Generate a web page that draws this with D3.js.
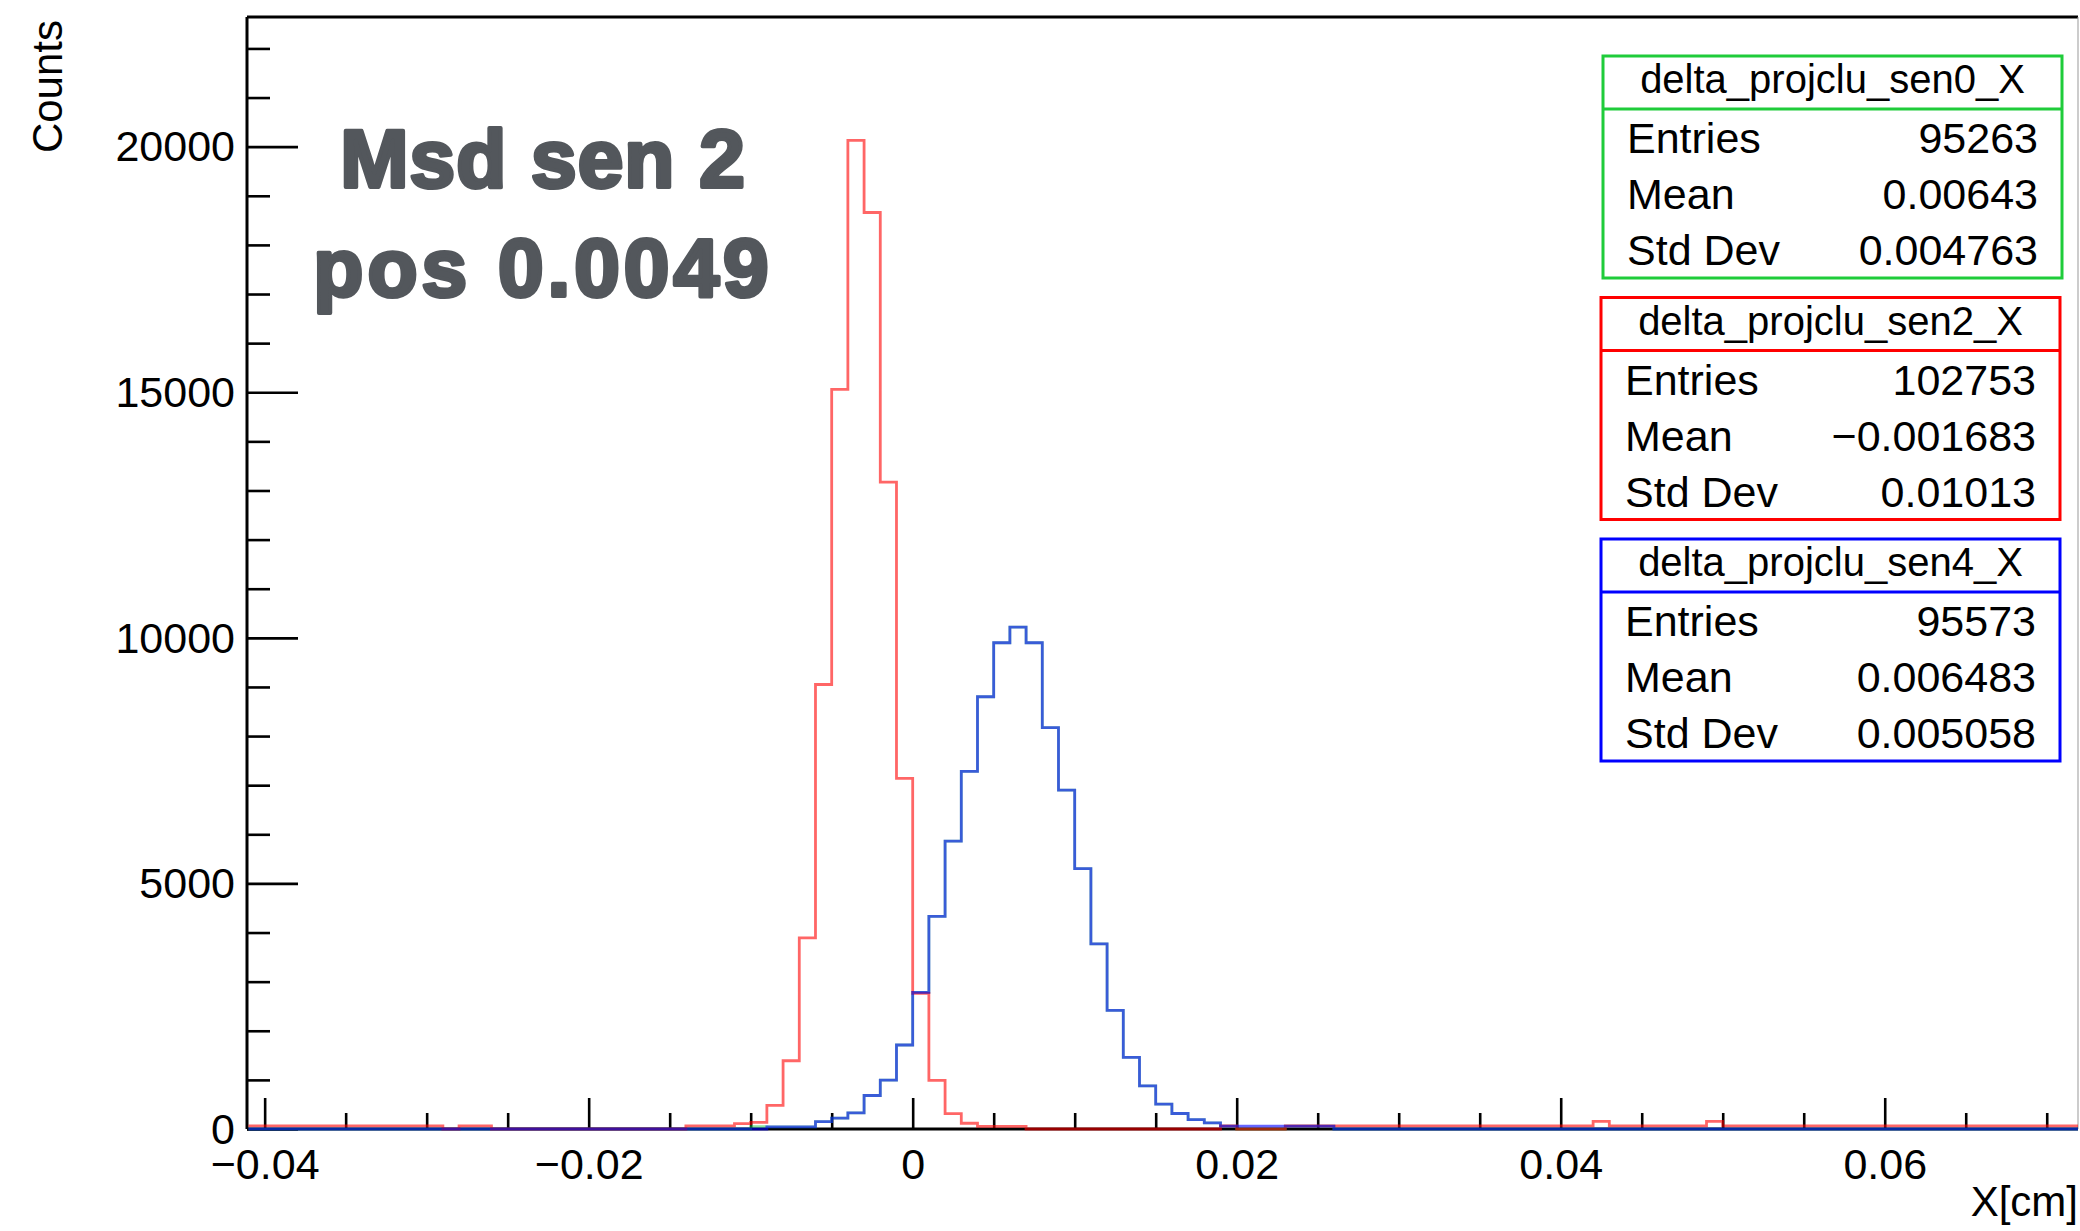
<!DOCTYPE html>
<html>
<head>
<meta charset="utf-8">
<script src="https://cdn.jsdelivr.net/npm/d3@7"></script>
<style>
    body { margin: 0; background: #fff; }
    svg { display: block; }
    text { font-family: "Liberation Sans", Arial, Helvetica, sans-serif; }
</style>
</head>
<body>
<div id="chart"></div>
<script>
// bin contents, 0.001 cm wide bins starting at -0.041
const binStart = -0.041;
const binWidth = 0.001;

// delta_projclu_sen0_X (mostly hidden under sen4)
const sen0Counts = [
    0, 0, 0, 0, 0, 0, 0, 0, 0, 0,
    0, 0, 0, 0, 0, 0, 0, 0, 0, 0,
    0, 0, 0, 0, 0, 0, 0, 0, 0, 0,
    0, 50, 45, 45, 45, 150, 220, 330, 682, 996,
    1710, 2780, 4330, 5860, 7280, 8800, 9900, 10220, 9900, 8170,
    6900, 5300, 3770, 2415, 1460, 880, 508, 316, 192, 124,
    60, 0, 0, 0, 60, 60, 60, 0, 0, 0,
    0, 0, 0, 0, 0, 0, 0, 0, 0, 0,
    0, 0, 0, 0, 0, 0, 0, 0, 0, 0,
    0, 0, 0, 0, 0, 0, 0, 0, 0, 0,
    0, 0, 0, 0, 0, 0, 0, 0, 0, 0,
    0, 0, 0
];

// delta_projclu_sen2_X
const sen2Counts = [
    65, 65, 65, 65, 65, 65, 65, 65, 65, 65,
    65, 65, 0, 65, 65, 0, 0, 0, 0, 0,
    0, 0, 0, 0, 0, 0, 0, 65, 65, 65,
    110, 135, 480, 1390, 3890, 9050, 15060, 20130, 18660, 13170,
    7140, 2760, 990, 312, 117, 55, 55, 55, 0, 0,
    0, 0, 0, 0, 0, 0, 0, 0, 0, 0,
    65, 0, 0, 0, 65, 65, 65, 65, 65, 65,
    65, 65, 65, 65, 65, 65, 65, 65, 65, 65,
    65, 65, 65, 155, 65, 65, 65, 65, 65, 65,
    155, 65, 65, 65, 65, 65, 65, 65, 65, 65,
    65, 65, 65, 65, 65, 65, 65, 65, 65, 65,
    65, 65, 65
];

// delta_projclu_sen4_X
const sen4Counts = [
    0, 0, 0, 0, 0, 0, 0, 0, 0, 0,
    0, 0, 0, 0, 0, 0, 0, 0, 0, 0,
    0, 0, 0, 0, 0, 0, 0, 0, 0, 0,
    0, 0, 45, 45, 45, 150, 220, 330, 682, 996,
    1710, 2780, 4330, 5860, 7280, 8800, 9900, 10220, 9900, 8170,
    6900, 5300, 3770, 2415, 1460, 880, 508, 316, 192, 124,
    60, 60, 60, 60, 60, 60, 60, 0, 0, 0,
    0, 0, 0, 0, 0, 0, 0, 0, 0, 0,
    0, 0, 0, 0, 0, 0, 0, 0, 0, 0,
    0, 0, 0, 0, 0, 0, 0, 0, 0, 0,
    0, 0, 0, 0, 0, 0, 0, 0, 0, 0,
    0, 0, 0
];

const xTicks = [-0.04, -0.02, 0, 0.02, 0.04, 0.06];
const xTickLabels = ["\u22120.04", "\u22120.02", "0", "0.02", "0.04", "0.06"];
const yTicks = [0, 5000, 10000, 15000, 20000];

const statNames = ["delta_projclu_sen0_X", "delta_projclu_sen2_X", "delta_projclu_sen4_X"];
const statEntries = ["95263", "102753", "95573"];
const statMeans = ["0.00643", "\u22120.001683", "0.006483"];
const statStdDevs = ["0.004763", "0.01013", "0.005058"];

const titleLines = ["Msd sen 2", "pos 0.0049"];

const width = 2080,
    height = 1231;
const frame = { left: 247, right: 2078, top: 17, bottom: 1129 };

const svg = d3.select("#chart")
    .append("svg")
    .attr("width", width)
    .attr("height", height)
    .attr("viewBox", [0, 0, width, height]);

const x = d3.scaleLinear()
    .domain([-0.04109, 0.07193])
    .range([frame.left, frame.right]);

const y = d3.scaleLinear()
    .domain([0, 22640])
    .range([frame.bottom, frame.top]);

// frame: thick left/top, thin right
svg.append("line")
    .attr("x1", frame.left).attr("x2", frame.right)
    .attr("y1", frame.top).attr("y2", frame.top)
    .attr("stroke", "#000").attr("stroke-width", 3);
svg.append("line")
    .attr("x1", frame.right).attr("x2", frame.right)
    .attr("y1", frame.top).attr("y2", frame.bottom)
    .attr("stroke", "#999").attr("stroke-width", 1);

// y axis (ticks pointing inside)
const yMinor = d3.range(0, 23).map(i => i * 1000).filter(v => v % 5000 !== 0);

svg.append("g")
    .attr("transform", `translate(${frame.left},0)`)
    .call(d3.axisLeft(y).tickValues(yMinor).tickSize(-23).tickFormat(""))
    .call(g => g.select(".domain").remove())
    .call(g => g.selectAll("line").attr("stroke-width", 2.6));

svg.append("g")
    .attr("transform", `translate(${frame.left},0)`)
    .call(d3.axisLeft(y).tickValues(yTicks).tickSize(-51).tickPadding(12).tickFormat(d3.format("d")))
    .call(g => g.select(".domain")
        .attr("d", `M0,${frame.top}V${frame.bottom}`)
        .attr("stroke-width", 3))
    .call(g => g.selectAll("line").attr("stroke-width", 2.6))
    .call(g => g.selectAll("text")
        .attr("font-size", 43)
        .attr("font-family", "Liberation Sans, Arial, sans-serif")
        .attr("dy", "0.33em"));

// x axis
const xMinor = d3.range(-8, 15).filter(i => i % 4 !== 0).map(i => i * 0.005);

svg.append("g")
    .attr("transform", `translate(0,${frame.bottom})`)
    .call(d3.axisBottom(x).tickValues(xMinor).tickSize(-16).tickFormat(""))
    .call(g => g.select(".domain").remove())
    .call(g => g.selectAll("line").attr("stroke-width", 2.6));

svg.append("g")
    .attr("transform", `translate(0,${frame.bottom})`)
    .call(d3.axisBottom(x).tickValues(xTicks).tickSize(-31).tickPadding(19)
        .tickFormat((d, i) => xTickLabels[i]))
    .call(g => g.select(".domain")
        .attr("d", `M${frame.left},0H${frame.right}`)
        .attr("stroke-width", 3))
    .call(g => g.selectAll("line").attr("stroke-width", 2.6))
    .call(g => g.selectAll("text")
        .attr("font-size", 43)
        .attr("font-family", "Liberation Sans, Arial, sans-serif"));

// axis titles
svg.append("text")
    .attr("transform", "translate(62,20) rotate(-90)")
    .attr("text-anchor", "end")
    .attr("font-size", 42)
    .text("Counts");

svg.append("text")
    .attr("x", 2078)
    .attr("y", 1216)
    .attr("text-anchor", "end")
    .attr("font-size", 42)
    .text("X[cm]");

// histograms
svg.append("clipPath")
    .attr("id", "frame-clip")
    .append("rect")
    .attr("x", frame.left)
    .attr("y", frame.top)
    .attr("width", frame.right - frame.left)
    .attr("height", frame.bottom - frame.top + 3);

const histLine = d3.line()
    .x(d => x(d[0]))
    .y(d => y(d[1]))
    .curve(d3.curveStepAfter);

function binPoints(counts) {
    const pts = counts.map((c, i) => [binStart + i * binWidth, c]);
    pts.push([binStart + counts.length * binWidth, counts[counts.length - 1]]);
    return pts;
}

const series = [
    { counts: sen0Counts, color: "#1fcc3a", opacity: 0.5 },
    { counts: sen2Counts, color: "#ff0000", opacity: 0.6 },
    { counts: sen4Counts, color: "#0000ff", opacity: 0.6 }
];

svg.append("g")
    .attr("clip-path", "url(#frame-clip)")
    .selectAll("path")
    .data(series)
    .join("path")
    .attr("d", d => histLine(binPoints(d.counts)))
    .attr("fill", "none")
    .attr("stroke", d => d.color)
    .attr("stroke-opacity", d => d.opacity)
    .attr("stroke-width", 2.8);

// big annotation (extra stroke to get the heavy weight)
svg.append("g")
    .selectAll("text")
    .data(titleLines)
    .join("text")
    .attr("x", 543)
    .attr("y", (d, i) => 187 + i * 109)
    .attr("text-anchor", "middle")
    .attr("font-family", "Inter, 'Noto Sans', sans-serif")
    .attr("font-weight", 800)
    .attr("font-size", 82)
    .attr("letter-spacing", (d, i) => i === 0 ? 1 : 4)
    .attr("fill", "#53575c")
    .attr("stroke", "#53575c")
    .attr("stroke-width", 4)
    .attr("stroke-linejoin", "round")
    .text(d => d);

// stat boxes
const boxColors = ["#1fcc3a", "#ff0000", "#0000ff"];
const boxLeft = [1603, 1601, 1601];
const boxW = 459, boxH = 222;

statNames.forEach((name, i) => {
    const top = 56 + i * 241.5;
    const left = boxLeft[i];
    const g = svg.append("g");

    g.append("rect")
        .attr("x", left).attr("y", top)
        .attr("width", boxW).attr("height", boxH)
        .attr("fill", "#fff")
        .attr("stroke", boxColors[i])
        .attr("stroke-width", 3);

    g.append("line")
        .attr("x1", left).attr("x2", left + boxW)
        .attr("y1", top + 53).attr("y2", top + 53)
        .attr("stroke", boxColors[i])
        .attr("stroke-width", 3);

    g.append("text")
        .attr("x", left + boxW / 2)
        .attr("y", top + 37)
        .attr("text-anchor", "middle")
        .attr("font-size", 40)
        .text(name);

    const rows = [
        ["Entries", statEntries[i]],
        ["Mean", statMeans[i]],
        ["Std Dev", statStdDevs[i]]
    ];
    rows.forEach((r, j) => {
        g.append("text")
            .attr("x", left + 24)
            .attr("y", top + 97 + j * 56)
            .attr("font-size", 43)
            .text(r[0]);
        g.append("text")
            .attr("x", left + boxW - 24)
            .attr("y", top + 97 + j * 56)
            .attr("text-anchor", "end")
            .attr("font-size", 43)
            .text(r[1]);
    });
});
</script>
</body>
</html>
